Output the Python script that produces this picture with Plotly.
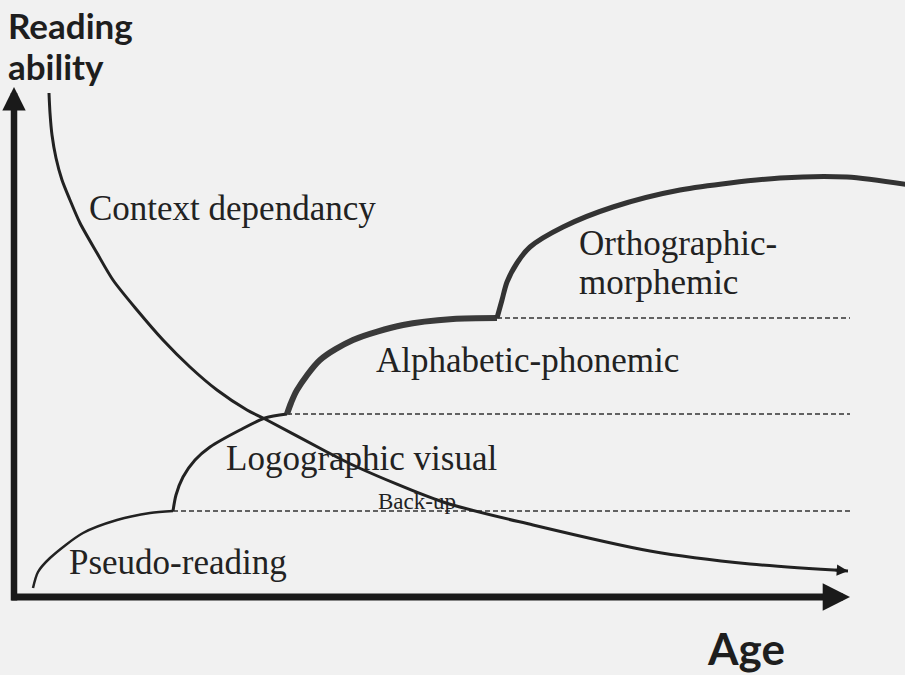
import plotly.graph_objects as go

# Conceptual units: age along the horizontal axis, reading ability along the vertical axis
context_age = [35, 36, 38, 42, 48, 56, 66, 83, 99, 123, 149, 176, 203, 233, 251, 313, 343, 429, 519, 636, 736, 834]
context_ability = [504, 484, 462, 439, 417, 397, 374, 344, 317, 287, 257, 230, 207, 187, 178, 145, 130, 95, 72, 46, 33, 26]

pseudo_age = [19, 24, 36, 69, 103, 136, 159]
pseudo_ability = [9, 25, 39, 64, 77, 84, 86]

logo_age = [159, 162, 169, 181, 196, 226, 251, 273]
logo_ability = [86, 102, 120, 137, 150, 167, 179, 183]

alpha_age = [273, 277, 283, 306, 339, 389, 439, 483]
alpha_ability = [183, 194, 207, 237, 257, 272, 278, 279]

ortho_age = [483, 488, 493, 503, 516, 549, 599, 666, 766, 833, 896]
ortho_ability = [279, 297, 315, 334, 350, 370, 390, 407, 419, 420, 412]

level_ability = [86, 183, 279]
level_start = [159, 273, 483]
level_end = 836

fig = go.Figure()

serif = "Liberation Serif"
ink = "#222222"

# dashed stage levels
for lv, st in zip(level_ability, level_start):
    fig.add_trace(go.Scatter(x=[st, level_end], y=[lv, lv], mode="lines",
                             line=dict(color="#333333", width=1.3, dash="5px,3px")))

# stage curves
fig.add_trace(go.Scatter(x=pseudo_age, y=pseudo_ability, mode="lines",
                         line=dict(color=ink, width=2.5, shape="spline", smoothing=0.8)))
fig.add_trace(go.Scatter(x=logo_age, y=logo_ability, mode="lines",
                         line=dict(color=ink, width=3, shape="spline", smoothing=0.8)))
fig.add_trace(go.Scatter(x=alpha_age, y=alpha_ability, mode="lines",
                         line=dict(color="#3a3a3a", width=6, shape="spline", smoothing=0.8)))
fig.add_trace(go.Scatter(x=ortho_age, y=ortho_ability, mode="lines",
                         line=dict(color="#333333", width=5, shape="spline", smoothing=0.8)))

# context dependancy curve
fig.add_trace(go.Scatter(x=context_age, y=context_ability, mode="lines",
                         line=dict(color=ink, width=3, shape="spline", smoothing=0.8)))

annotations = []

def arrow(x, y, ax, ay, width, size):
    annotations.append(dict(x=x, y=y, ax=ax, ay=ay, xref="x", yref="y", axref="x", ayref="y",
                            text="", showarrow=True, arrowhead=2, arrowwidth=width,
                            arrowsize=size, arrowcolor="#1a1a1a", standoff=0, startstandoff=0))

# axes with arrows
arrow(0, 510, 0, -5, 6.5, 0.72)
arrow(836, 0, -4, 0, 7, 0.78)
# arrow at end of context curve
arrow(context_age[-1], context_ability[-1], context_age[-1] - 14, context_ability[-1] + 1, 2.5, 0.9)

def label(text, x, y, size, family=serif, bold=False, color=ink):
    annotations.append(dict(x=x, y=y, xref="x", yref="y", text=("<b>%s</b>" % text) if bold else text,
                            showarrow=False, xanchor="left", yanchor="middle", align="left",
                            font=dict(family=family, size=size, color=color)))

label("Context dependancy", 73, 389, 35)
label("Orthographic-", 563, 354, 35)
label("morphemic", 563, 315, 35)
label("Alphabetic-phonemic", 360, 237, 35)
label("Logographic visual", 210, 139, 35)
label("Pseudo-reading", 53, 35, 35)
label("Back-up", 362, 96, 23)

label("Reading", -8, 572, 35, family="Lato", bold=True, color="#1e1e1e")
label("ability", -8, 531, 35, family="Lato", bold=True, color="#1e1e1e")
label("Age", 691, -51, 44, family="Lato", bold=True, color="#1e1e1e")

fig.update_layout(
    width=905, height=675,
    margin=dict(l=0, r=0, t=0, b=0),
    paper_bgcolor="#f1f1f1", plot_bgcolor="#f1f1f1",
    showlegend=False,
    xaxis=dict(range=[-14, 891], visible=False, fixedrange=True),
    yaxis=dict(range=[-78, 597], visible=False, fixedrange=True),
    annotations=annotations,
)

fig.write_html("out.html", config={"displayModeBar": False},
               post_script="document.body.style.margin='0';document.body.style.padding='0';"
                           "document.body.style.background='#f1f1f1';")
